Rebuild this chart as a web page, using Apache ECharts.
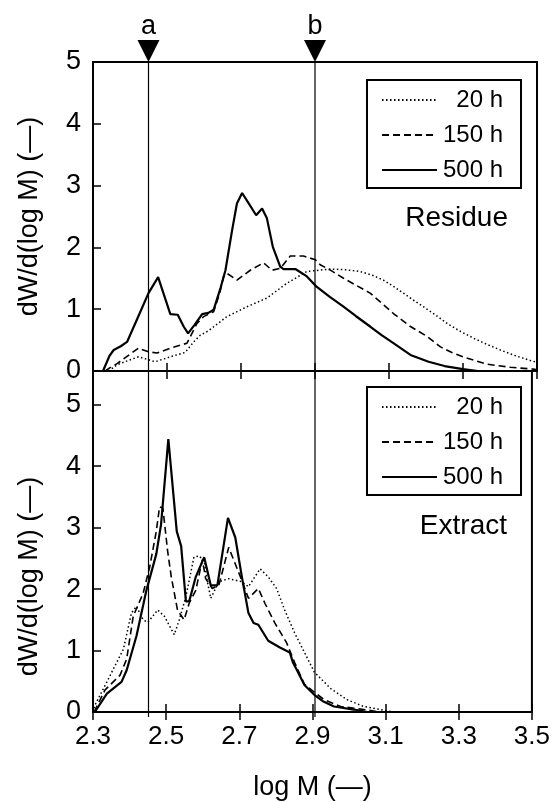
<!DOCTYPE html>
<html>
<head>
  <meta charset="utf-8">
  <title>Residue / Extract MWD</title>
  <style type="text/css">
    html, body { margin: 0; padding: 0; background: #fff; }
    #main { width: 553px; height: 802px; }
  </style>
</head>
<body>
<div id="main"></div>
<script type="text/javascript" src="https://cdn.jsdelivr.net/npm/echarts@6/dist/echarts.min.js"></script>
<script type="text/javascript">
  // series names
  var names = ['20 h', '150 h', '500 h'];

  // x ticks (log M)
  var xTicks = [2.3, 2.5, 2.7, 2.9, 3.1, 3.3, 3.5];

  // reference lines a and b
  var markA = 2.45;
  var markB = 2.9;

  // residue, [log M, dW/d(log M)]
  var residue20 = [[2.342,0],[2.365,0.10],[2.395,0.17],[2.423,0.23],[2.468,0.15],[2.509,0.23],[2.549,0.30],[2.572,0.47],[2.59,0.58],[2.612,0.65],[2.662,0.88],[2.716,1.04],[2.77,1.18],[2.824,1.42],[2.878,1.61],[2.91,1.63],[2.941,1.65],[2.98,1.64],[3.022,1.61],[3.055,1.55],[3.085,1.47],[3.112,1.37],[3.139,1.26],[3.165,1.15],[3.193,1.04],[3.225,0.91],[3.257,0.77],[3.29,0.65],[3.329,0.53],[3.365,0.43],[3.401,0.34],[3.44,0.25],[3.482,0.17],[3.5,0.14]];
  var residue150 = [[2.333,0],[2.345,0.05],[2.365,0.12],[2.395,0.25],[2.423,0.37],[2.45,0.31],[2.473,0.29],[2.509,0.37],[2.554,0.45],[2.581,0.77],[2.599,0.88],[2.626,0.96],[2.642,1.25],[2.653,1.53],[2.662,1.58],[2.689,1.47],[2.725,1.63],[2.761,1.75],[2.784,1.63],[2.806,1.66],[2.833,1.86],[2.869,1.86],[2.901,1.80],[2.914,1.72],[2.945,1.62],[2.977,1.50],[3.01,1.39],[3.049,1.26],[3.08,1.10],[3.112,0.93],[3.158,0.72],[3.203,0.56],[3.239,0.39],[3.27,0.30],[3.30,0.23],[3.365,0.11],[3.428,0.06],[3.49,0.03],[3.5,0.02]];
  var residue500 = [[2.327,0],[2.345,0.25],[2.356,0.34],[2.375,0.40],[2.392,0.47],[2.42,0.85],[2.45,1.26],[2.476,1.52],[2.509,0.92],[2.529,0.91],[2.545,0.72],[2.557,0.61],[2.575,0.75],[2.595,0.92],[2.612,0.94],[2.626,0.99],[2.645,1.35],[2.658,1.63],[2.676,2.28],[2.689,2.71],[2.703,2.88],[2.72,2.72],[2.741,2.52],[2.757,2.63],[2.77,2.47],[2.786,2.01],[2.806,1.69],[2.815,1.65],[2.847,1.65],[2.878,1.53],[2.905,1.36],[2.94,1.20],[2.977,1.04],[3.01,0.89],[3.049,0.72],[3.08,0.58],[3.112,0.45],[3.158,0.26],[3.207,0.15],[3.25,0.08],[3.30,0.03],[3.34,0]];

  // extract
  var extract20 = [[2.300,0],[2.306,0.12],[2.338,0.49],[2.365,0.81],[2.383,1.02],[2.405,1.61],[2.419,1.72],[2.437,1.50],[2.450,1.46],[2.477,1.66],[2.495,1.56],[2.522,1.26],[2.536,1.50],[2.554,1.88],[2.576,2.52],[2.590,2.54],[2.604,2.46],[2.612,2.14],[2.622,1.85],[2.644,2.12],[2.671,2.17],[2.707,2.12],[2.725,2.04],[2.757,2.33],[2.779,2.20],[2.802,2.01],[2.824,1.66],[2.851,1.29],[2.878,0.97],[2.905,0.65],[2.950,0.38],[2.995,0.20],[3.04,0.09],[3.085,0.04],[3.12,0]];
  var extract150 = [[2.303,0],[2.333,0.36],[2.374,0.60],[2.392,0.86],[2.410,1.56],[2.437,1.93],[2.455,2.36],[2.473,2.94],[2.482,3.34],[2.491,3.32],[2.504,2.62],[2.514,2.20],[2.531,1.66],[2.549,1.50],[2.563,1.77],[2.581,1.98],[2.599,2.48],[2.608,2.17],[2.626,2.01],[2.644,2.06],[2.671,2.68],[2.689,2.41],[2.707,2.14],[2.725,1.85],[2.752,2.01],[2.770,1.77],[2.797,1.45],[2.829,1.13],[2.851,0.81],[2.869,0.57],[2.878,0.45],[2.91,0.30],[2.932,0.20],[2.977,0.09],[3.04,0.04],[3.085,0]];
  var extract500 = [[2.305,0],[2.338,0.30],[2.378,0.49],[2.392,0.68],[2.419,1.24],[2.446,1.98],[2.473,2.57],[2.486,3.05],[2.506,4.44],[2.529,2.94],[2.541,2.70],[2.554,1.80],[2.563,1.80],[2.581,2.20],[2.604,2.52],[2.622,2.06],[2.640,2.06],[2.669,3.16],[2.689,2.84],[2.707,2.20],[2.725,1.61],[2.739,1.45],[2.752,1.42],[2.779,1.16],[2.811,1.05],[2.838,0.97],[2.847,0.80],[2.856,0.70],[2.878,0.44],[2.905,0.28],[2.93,0.17],[2.959,0.09],[3.013,0.04],[3.05,0]];

  var font = "'Liberation Sans', Arial, sans-serif";
  var lineTypes = [[1.5, 2.5], [7, 4], 'solid'];
  var lineWidths = [1.5, 1.6, 2.2];

  var myChart = echarts.init(document.getElementById('main'));

  function xAxisCfg(grid, pos, labels, name) {
    return {
      type: 'value', gridIndex: grid, position: pos,
      min: xTicks[0], max: xTicks[xTicks.length - 1], interval: 0.2,
      axisLine: { show: false },
      splitLine: { show: false },
      axisTick: { show: true, inside: true, length: 8, lineStyle: { color: '#000', width: 1.5 } },
      axisLabel: {
        show: labels, margin: 12, color: '#000', fontSize: 26, fontFamily: font,
        formatter: function (v) { return v.toFixed(1); }
      },
      name: name || '', nameLocation: 'middle', nameGap: 62,
      nameTextStyle: { color: '#000', fontSize: 27, fontFamily: font }
    };
  }

  function yAxisCfg(grid, max, namePad) {
    return {
      type: 'value', gridIndex: grid, min: 0, max: max, interval: 1,
      axisLine: { show: false },
      splitLine: { show: false },
      axisTick: { show: true, inside: true, length: 8, lineStyle: { color: '#000', width: 1.5 } },
      axisLabel: {
        margin: 12, color: '#000', fontSize: 27, fontFamily: font,
        formatter: function (v) { return Math.abs(v - Math.round(v)) < 1e-6 ? String(Math.round(v)) : ''; }
      },
      name: 'dW/d(log M) (\u2014)', nameLocation: 'middle', nameGap: 50, nameRotate: 90,
      nameTextStyle: { color: '#000', fontSize: 27, fontFamily: font, padding: namePad }
    };
  }

  function curve(name, data, idx, xi, yi) {
    return {
      name: name, type: 'line', xAxisIndex: xi, yAxisIndex: yi,
      data: data, showSymbol: false, symbol: 'none', smooth: false,
      lineStyle: { color: '#000', width: lineWidths[idx], type: lineTypes[idx] },
      itemStyle: { color: '#000' }
    };
  }

  function legendCfg(top) {
    return {
      data: names, orient: 'vertical', left: 367, top: top,
      borderColor: '#000', borderWidth: 2, padding: [8, 18, 6, 14],
      itemWidth: 55, itemHeight: 14, itemGap: 11, selectedMode: false,
      itemStyle: { opacity: 0 },
      formatter: '{r|{name}}',
      textStyle: {
        color: '#000', fontFamily: font, fontSize: 24,
        rich: { r: { width: 61, align: 'right', fontSize: 24, fontFamily: font, color: '#000' } }
      }
    };
  }

  function marker(x, label) {
    return [{
      name: 'line ' + label, type: 'line', xAxisIndex: 4, yAxisIndex: 4,
      data: [[x, 0], [x, 1]], showSymbol: false, symbol: 'none',
      lineStyle: { color: '#000', width: 1.2 }, silent: true, z: 5
    }, {
      name: 'mark ' + label, type: 'scatter', xAxisIndex: 4, yAxisIndex: 4,
      data: [[x, 1]], symbol: 'triangle', symbolRotate: 180, symbolSize: [22, 22],
      symbolOffset: [0, -11], clip: false, silent: true, z: 6,
      itemStyle: { color: '#000', opacity: 1 },
      label: { show: true, position: 'top', distance: 0, formatter: label,
        color: '#000', fontSize: 27, fontFamily: font }
    }];
  }

  var series = [
    curve(names[0], residue20, 0, 0, 0),
    curve(names[1], residue150, 1, 0, 0),
    curve(names[2], residue500, 2, 0, 0),
    curve(names[0], extract20, 0, 2, 2),
    curve(names[1], extract150, 1, 2, 2),
    curve(names[2], extract500, 2, 2, 2)
  ].concat(marker(markA, 'a'), marker(markB, 'b'));

  var option = {
    backgroundColor: '#fff',
    animation: false,
    textStyle: { fontFamily: font },
    title: [
      { text: 'Residue', right: 40, top: 199, textStyle: { color: '#000', fontSize: 28, fontWeight: 'normal', fontFamily: font } },
      { text: 'Extract', right: 41, top: 507, textStyle: { color: '#000', fontSize: 28, fontWeight: 'normal', fontFamily: font } }
    ],
    legend: [legendCfg(80), legendCfg(387)],
    grid: [
      { left: 93, top: 62, width: 444, height: 309, show: true, borderColor: '#000', borderWidth: 2, backgroundColor: 'transparent' },
      { left: 93, top: 371, width: 444, height: 346, show: true, borderColor: '#000', borderWidth: 2, backgroundColor: 'transparent' },
      { left: 93, top: 62, width: 444, height: 655 }
    ],
    xAxis: [
      xAxisCfg(0, 'bottom', false),
      xAxisCfg(0, 'top', false),
      xAxisCfg(1, 'bottom', true, 'log M (\u2014)'),
      xAxisCfg(1, 'top', false),
      { type: 'value', gridIndex: 2, min: xTicks[0], max: xTicks[xTicks.length - 1], show: false }
    ],
    yAxis: [
      yAxisCfg(0, 5, [0, 0, 0, 0]),
      { type: 'value', gridIndex: 0, min: 0, max: 5, show: false },
      yAxisCfg(1, 5.55, [0, 70, 0, 0]),
      { type: 'value', gridIndex: 1, min: 0, max: 5.55, show: false },
      { type: 'value', gridIndex: 2, min: 0, max: 1, show: false }
    ],
    series: series
  };

  myChart.setOption(option);
</script>
</body>
</html>
